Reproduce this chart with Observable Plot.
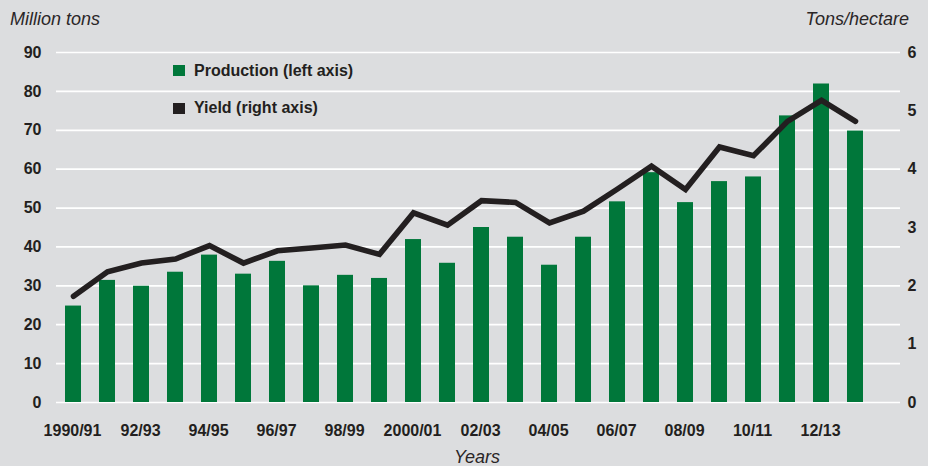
<!DOCTYPE html>
<html>
<head>
<meta charset="utf-8">
<script src="https://cdn.jsdelivr.net/npm/d3@7"></script>
<script src="https://cdn.jsdelivr.net/npm/@observablehq/plot@0.6"></script>
<style>
  html, body { margin: 0; padding: 0; background: #dcdddf; }
  #wrap { position: relative; width: 928px; height: 466px; background: #dcdddf; font-family: "Liberation Sans", Arial, Helvetica, sans-serif; color: #231f20; overflow: hidden; }
  #wrap svg { position: absolute; left: 0; top: 0; }
  .ttl { position: absolute; font-style: italic; font-size: 18px; line-height: 18px; white-space: nowrap; color: #2a2627; }
  .leg { position: absolute; font-weight: bold; font-size: 16px; line-height: 16px; white-space: nowrap; }
  .sw { position: absolute; width: 12px; height: 11px; }
</style>
</head>
<body>
<div id="wrap"></div>
<script>
const seasons = ["1990/91","1991/92","1992/93","1993/94","1994/95","1995/96","1996/97","1997/98","1998/99","1999/00",
  "2000/01","2001/02","2002/03","2003/04","2004/05","2005/06","2006/07","2007/08","2008/09","2009/10",
  "2010/11","2011/12","2012/13","2013/14"];
const production = [24.8, 31.4, 29.9, 33.5, 37.9, 33.0, 36.3, 30.0, 32.7, 31.9,
  41.9, 35.8, 45.0, 42.5, 35.3, 42.5, 51.6, 59.1, 51.4, 56.8,
  58.0, 73.7, 81.9, 69.8];
const yieldTha = [1.82, 2.24, 2.39, 2.46, 2.69, 2.39, 2.60, 2.65, 2.70, 2.54,
  3.25, 3.04, 3.46, 3.43, 3.08, 3.28, 3.66, 4.05, 3.65, 4.38,
  4.23, 4.82, 5.18, 4.82];
const xTickLabels = ["1990/91","92/93","94/95","96/97","98/99","2000/01","02/03","04/05","06/07","08/09","10/11","12/13"];
const leftTicks = [0,10,20,30,40,50,60,70,80,90];
const rightTicks = [0,1,2,3,4,5,6];
const legendItems = ["Production (left axis)", "Yield (right axis)"];
const titles = {left: "Million tons", right: "Tons/hectare", x: "Years"};

const GREEN = "#00773a", DARK = "#231f20";
const ratio = 90 / 6; // right axis max maps to left axis max

const rows = seasons.map((s, i) => ({season: s, production: production[i], yield: yieldTha[i]}));
const tickSeasons = seasons.filter((d, i) => i % 2 === 0);

const chart = Plot.plot({
  width: 928,
  height: 466,
  marginLeft: 56,
  marginRight: 28,
  marginTop: 52,
  marginBottom: 64,
  style: {background: "transparent", fontFamily: "'Liberation Sans', Arial, Helvetica, sans-serif", fontSize: "16px", fontWeight: "bold", color: DARK},
  x: {type: "band", domain: seasons, range: [64, 864], paddingInner: 0.53, paddingOuter: 0},
  y: {domain: [0, 90]},
  marks: [
    Plot.ruleY(leftTicks, {stroke: "white", strokeWidth: 1.7}),
    Plot.barY(rows, {x: "season", y: "production", fill: GREEN}),
    Plot.line(rows, {x: "season", y: d => d.yield * ratio, stroke: DARK, strokeWidth: 5.6, strokeLinejoin: "miter", strokeMiterlimit: 10}),
    Plot.axisY(leftTicks, {anchor: "left", tickSize: 0, tickPadding: 15, label: null}),
    Plot.axisY(rightTicks.map(v => v * ratio), {anchor: "right", tickSize: 0, tickPadding: 7, tickFormat: d => d / ratio, label: null}),
    Plot.axisX(tickSeasons, {anchor: "bottom", tickSize: 0, tickPadding: 22, dx: -1, tickFormat: d => xTickLabels[tickSeasons.indexOf(d)], label: null})
  ]
});

const wrap = document.getElementById("wrap");
wrap.appendChild(chart);

function addDiv(cls, text, css) {
  const el = document.createElement("div");
  el.className = cls;
  if (text) el.textContent = text;
  Object.assign(el.style, css);
  wrap.appendChild(el);
  return el;
}
addDiv("ttl", titles.left, {left: "10px", top: "10px"});
addDiv("ttl", titles.right, {right: "19px", top: "10px"});
addDiv("ttl", titles.x, {left: "454px", top: "448px"});

addDiv("sw", "", {left: "173px", top: "65px", background: GREEN});
addDiv("leg", legendItems[0], {left: "194px", top: "62.5px"});
addDiv("sw", "", {left: "173px", top: "103px", background: DARK});
addDiv("leg", legendItems[1], {left: "194px", top: "100px"});
</script>
</body>
</html>
